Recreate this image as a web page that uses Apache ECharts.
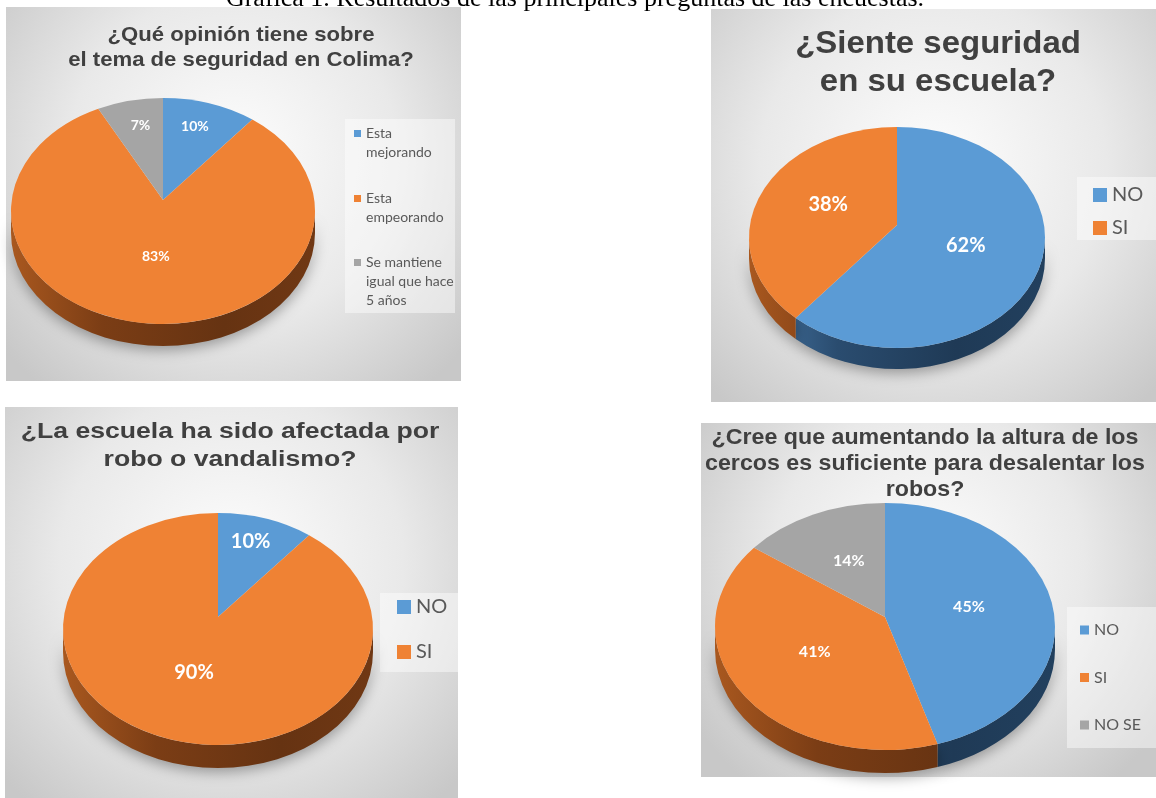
<!DOCTYPE html>
<html>
<head>
<meta charset="utf-8">
<script src="https://cdn.jsdelivr.net/npm/echarts@6/dist/echarts.min.js"></script>
<style>
html, body { margin: 0; padding: 0; background: #fff; }
#main { width: 1156px; height: 798px; }
</style>
</head>
<body>
<div id="main"></div>
<script>
// datos de las encuestas
const caption = 'Gráfica 1. Resultados de las principales preguntas de las encuestas.'

const titles = [
  '¿Qué opinión tiene sobre\nel tema de seguridad en Colima?',
  '¿Siente seguridad\nen su escuela?',
  '¿La escuela ha sido afectada por\nrobo o vandalismo?',
  '¿Cree que aumentando la altura de los\ncercos es suficiente para desalentar los\nrobos?'
]

const opinionCats = ['Esta mejorando', 'Esta empeorando', 'Se mantiene igual que hace 5 años']
const opinionLegend = ['Esta\nmejorando', 'Esta\nempeorando', 'Se mantiene\nigual que hace\n5 años']
const opinionVals = [10, 83, 7]

const seguridadCats = ['NO', 'SI']
const seguridadVals = [62, 38]

const roboCats = ['NO', 'SI']
const roboVals = [10, 90]

const cercosCats = ['NO', 'SI', 'NO SE']
const cercosVals = [45, 41, 14]

const panels = [
  { cats: opinionCats, vals: opinionVals },
  { cats: seguridadCats, vals: seguridadVals },
  { cats: roboCats, vals: roboVals },
  { cats: cercosCats, vals: cercosVals }
]

// colores estilo Excel: cara superior y costado (claro -> oscuro)
const topColors = ['#5B9BD5', '#EF8234', '#A5A5A5']
const sideColors = [
  ['#4677a6', '#2a4c6f', '#1f3a56', '#22405e'],
  ['#a9581f', '#7b3d15', '#663312', '#703814'],
  ['#8a8a8a', '#6c6c6c', '#575757', '#606060']
]

// posiciones de cada panel
const layout = [
  {
    box: [6, 7, 455, 374],
    title: { x: 241, y: 22, size: 20.5, lh: 25.7, sx: 1.08 },
    pie: { cx: 163, cy: 211, rx: 152, ry: 113, depth: 22, apexDy: -11 },
    labelSize: 14,
    legendBox: [345, 119, 110, 194],
    legend: { left: 354, icon: 7, size: 14, lh: 19, ys: [133, 198, 262] }
  },
  {
    box: [711, 9, 445, 393],
    title: { x: 938, y: 25, size: 32, lh: 38, sx: 1.03 },
    pie: { cx: 897, cy: 237.5, rx: 148, ry: 110.5, depth: 21, apexDy: -12.5 },
    labelSize: 20,
    legendBox: [1077, 177, 79, 63],
    legend: { left: 1093, icon: 14, size: 20, lh: 24, top: 183, gap: 9 }
  },
  {
    box: [5, 407, 453, 391],
    title: { x: 230, y: 418, size: 22, lh: 27.7, sx: 1.21 },
    pie: { cx: 218, cy: 629, rx: 155, ry: 116, depth: 23, apexDy: -12 },
    labelSize: 20,
    legendBox: [380, 593, 78, 79],
    legend: { left: 397, icon: 14, size: 20, lh: 24, top: 595, gap: 21 }
  },
  {
    box: [701, 423, 455, 354],
    title: { x: 925, y: 425.6, size: 21.4, lh: 26, sx: 1.085 },
    pie: { cx: 885, cy: 626.5, rx: 170, ry: 123.5, depth: 23, apexDy: -9.5 },
    labelSize: 16,
    legendBox: [1067, 607, 89, 141],
    legend: { left: 1080, icon: 9, size: 16, lh: 19, top: 620.5, gap: 28.5 }
  }
]

const bgGradient = {
  type: 'radial', x: 0.5, y: 0.4, r: 0.8,
  colorStops: [
    { offset: 0, color: '#fdfdfd' },
    { offset: 0.55, color: '#e9e9e9' },
    { offset: 1, color: '#c8c8c8' }
  ]
}

function makeSlice(p, i) {
  return function(params, api) {
    const vals = panels[p].vals
    const g = layout[p].pie
    const total = vals.reduce((a, b) => a + b, 0)
    let acc = 0
    for (let k = 0; k < i; k++) acc += vals[k]
    const v = api.value(0)
    const a1 = acc / total * Math.PI * 2
    const a2 = (acc + v) / total * Math.PI * 2
    const pt = (t, dy) => [g.cx + g.rx * Math.sin(t), g.cy - g.ry * Math.cos(t) + (dy || 0)]
    const ax = g.cx
    const ay = g.cy + g.apexDy

    const s = pt(a1)
    const e = pt(a2)
    const large = a2 - a1 > Math.PI ? 1 : 0
    const topPath = 'M' + ax + ' ' + ay + ' L' + s[0] + ' ' + s[1] +
      ' A' + g.rx + ' ' + g.ry + ' 0 ' + large + ' 1 ' + e[0] + ' ' + e[1] + ' Z'

    const children = []
    // costado visible (mitad frontal)
    const f1 = Math.max(a1, Math.PI / 2)
    const f2 = Math.min(a2, Math.PI * 1.5)
    if (f2 > f1) {
      const p1 = pt(f1)
      const p2 = pt(f2)
      const p2d = pt(f2, g.depth)
      const p1d = pt(f1, g.depth)
      const sidePath = 'M' + p1[0] + ' ' + p1[1] +
        ' A' + g.rx + ' ' + g.ry + ' 0 0 1 ' + p2[0] + ' ' + p2[1] +
        ' L' + p2d[0] + ' ' + p2d[1] +
        ' A' + g.rx + ' ' + g.ry + ' 0 0 0 ' + p1d[0] + ' ' + p1d[1] + ' Z'
      const sc = sideColors[i]
      children.push({
        type: 'path',
        z2: 1,
        shape: { pathData: sidePath },
        style: {
          fill: {
            type: 'linear', global: true,
            x: g.cx - g.rx, y: 0, x2: g.cx + g.rx, y2: 0,
            colorStops: [
              { offset: 0, color: sc[0] },
              { offset: 0.3, color: sc[1] },
              { offset: 0.7, color: sc[2] },
              { offset: 1, color: sc[3] }
            ]
          },
          shadowBlur: 14,
          shadowColor: 'rgba(0,0,0,0.35)',
          shadowOffsetY: 4
        }
      })
    }
    children.push({
      type: 'path',
      z2: 10,
      shape: { pathData: topPath },
      style: { fill: topColors[i] }
    })
    // etiqueta de porcentaje
    const share = v / total
    const mid = (a1 + a2) / 2
    const k = share < 0.12 ? 0.68 : 0.5
    children.push({
      type: 'text',
      z2: 20,
      x: g.cx + k * g.rx * Math.sin(mid),
      y: ay - k * g.ry * Math.cos(mid),
      style: {
        text: Math.round(share * 100) + '%',
        fill: '#ffffff',
        fontFamily: 'Lato',
        fontWeight: 'bold',
        fontSize: layout[p].labelSize,
        align: 'center',
        verticalAlign: 'middle'
      }
    })
    return { type: 'group', children }
  }
}

const series = []
panels.forEach((pd, p) => {
  pd.cats.forEach((name, i) => {
    series.push({
      type: 'custom',
      name: name,
      coordinateSystem: 'none',
      silent: true,
      itemStyle: { color: topColors[i] },
      data: [pd.vals[i]],
      renderItem: makeSlice(p, i)
    })
  })
})

// leyendas
const legends = []
const l0 = layout[0].legend
opinionCats.forEach((name, i) => {
  const lines = opinionLegend[i].split('\n')
  const n = lines.length
  legends.push({
    left: l0.left,
    top: l0.ys[i] - 6.5,
    padding: 0,
    orient: 'vertical',
    icon: 'rect',
    itemWidth: l0.icon,
    itemHeight: l0.icon,
    selectedMode: false,
    // texto rico: el relleno superior deja la primera línea junto al cuadro
    formatter: () => lines.map(s => '{t|' + s + '}').join('\n'),
    textStyle: {
      padding: [(n - 1) * l0.lh, 0, 0, 0],
      rich: {
        t: { fontFamily: 'Lato', fontSize: l0.size, lineHeight: l0.lh, color: '#595959' }
      }
    },
    data: [name]
  })
})
for (let p = 1; p < 4; p++) {
  const lg = layout[p].legend
  legends.push({
    left: lg.left,
    top: lg.top,
    padding: 0,
    orient: 'vertical',
    icon: 'rect',
    itemWidth: lg.icon,
    itemHeight: lg.icon,
    itemGap: lg.gap,
    selectedMode: false,
    textStyle: { fontFamily: 'Lato', fontSize: lg.size, lineHeight: lg.lh, color: '#595959' },
    data: panels[p].cats
  })
}

// fondos, títulos y pie de figura
const graphics = [{
  type: 'text',
  x: 575,
  y: -0.5,
  style: {
    text: caption,
    fontFamily: 'Liberation Serif',
    fontSize: 26,
    fill: '#000',
    align: 'center',
    verticalAlign: 'middle'
  }
}]
layout.forEach((l, p) => {
  graphics.push({
    type: 'rect',
    shape: { x: l.box[0], y: l.box[1], width: l.box[2], height: l.box[3] },
    style: { fill: bgGradient }
  })
  graphics.push({
    type: 'rect',
    shape: { x: l.legendBox[0], y: l.legendBox[1], width: l.legendBox[2], height: l.legendBox[3] },
    style: { fill: 'rgba(255,255,255,0.45)' }
  })
  graphics.push({
    type: 'text',
    x: l.title.x,
    y: l.title.y,
    scaleX: l.title.sx,
    style: {
      text: titles[p],
      fontFamily: 'Liberation Sans',
      fontWeight: 'bold',
      fontSize: l.title.size,
      lineHeight: l.title.lh,
      fill: '#404040',
      align: 'center',
      verticalAlign: 'top'
    }
  })
})

const chart = echarts.init(document.getElementById('main'))
chart.setOption({
  animation: false,
  graphic: graphics,
  legend: legends,
  series: series
})
</script>
</body>
</html>
